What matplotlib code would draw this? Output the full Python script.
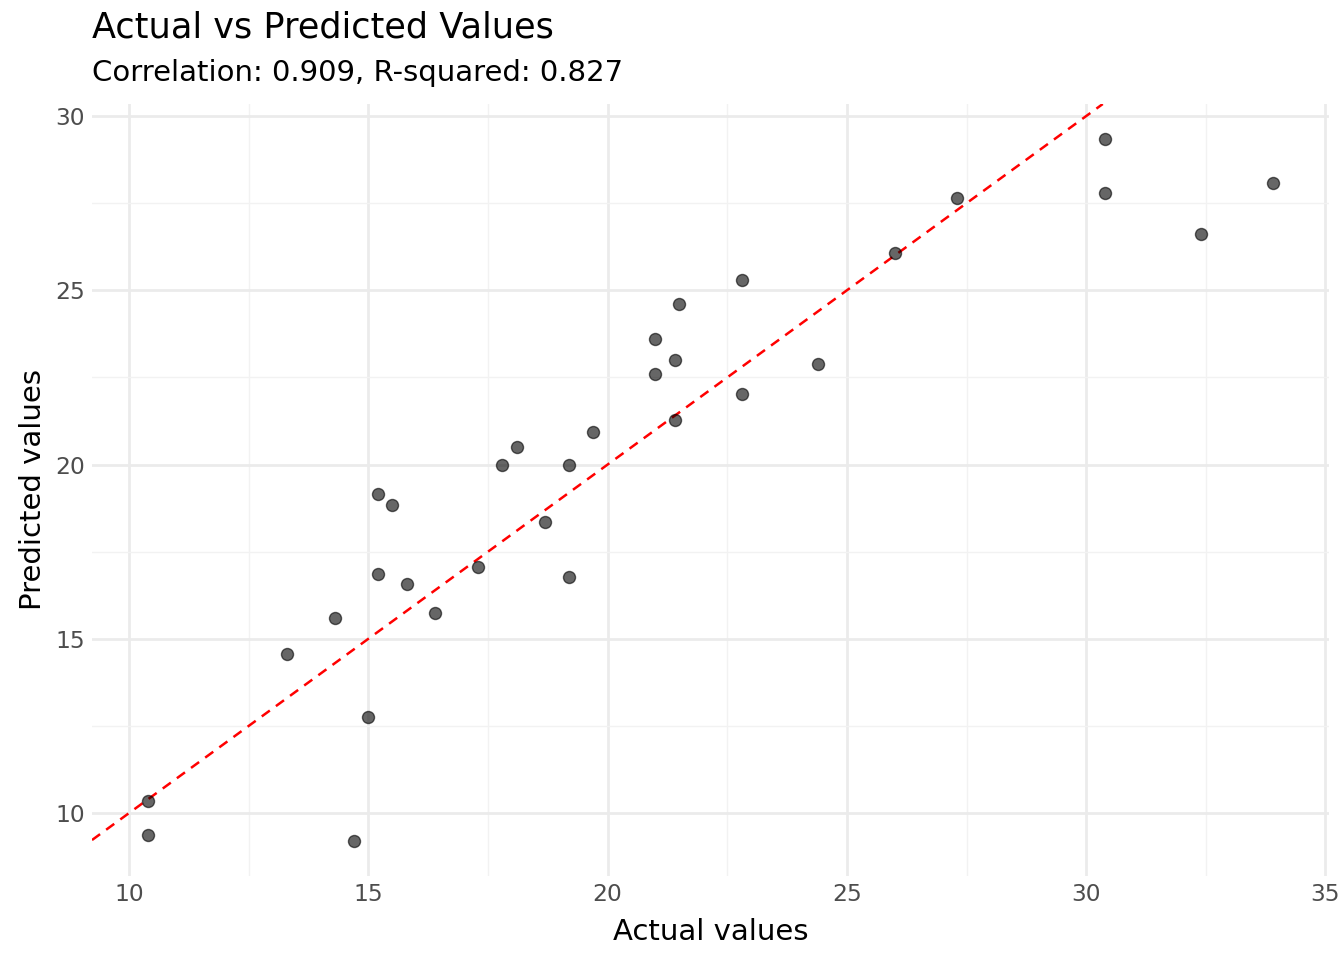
import matplotlib
matplotlib.use("Agg")
import matplotlib.pyplot as plt
import numpy as np
from matplotlib.ticker import MultipleLocator

actual = [10.4, 10.4, 14.7, 15.0, 13.3, 14.3, 15.2, 15.5, 15.2, 15.8, 16.4, 17.3,
          17.8, 18.1, 18.7, 19.2, 19.2, 19.7, 21.0, 21.0, 21.4, 21.4, 21.5, 22.8,
          22.8, 24.4, 26.0, 27.3, 30.4, 30.4, 32.4, 33.9]
predicted = [10.34, 9.37, 9.20, 12.75, 14.56, 15.60, 19.15, 18.84, 16.86, 16.57, 15.74, 17.06,
             19.99, 20.50, 18.35, 19.99, 16.77, 20.93, 23.60, 22.60, 23.00, 21.28, 24.60, 25.29,
             22.02, 22.90, 26.07, 27.65, 29.34, 27.79, 26.61, 28.08]

title = "Actual vs Predicted Values"
subtitle = "Correlation: 0.909, R-squared: 0.827"

fig = plt.figure(figsize=(13.44, 9.6), dpi=100)
ax = fig.add_axes([92/1344, 84/960, (1329-92)/1344, (876-104)/960])

xr = max(actual) - min(actual)
yr = max(predicted) - min(predicted)
xlim = (min(actual) - 0.05*xr, max(actual) + 0.05*xr)
ylim = (min(predicted) - 0.05*yr, max(predicted) + 0.05*yr)

ax.set_xlim(*xlim)
ax.set_ylim(*ylim)

ax.xaxis.set_major_locator(MultipleLocator(5))
ax.yaxis.set_major_locator(MultipleLocator(5))
ax.xaxis.set_minor_locator(MultipleLocator(2.5))
ax.yaxis.set_minor_locator(MultipleLocator(2.5))
ax.grid(which="major", color="#ebebeb", linewidth=2.0)
ax.grid(which="minor", color="#f2f2f2", linewidth=1.0)
ax.set_axisbelow(True)
for s in ax.spines.values():
    s.set_visible(False)
ax.tick_params(which="both", length=0)
ax.tick_params(axis="both", labelsize=16.8, colors="#4d4d4d", pad=5)

ax.axline((0, 0), slope=1, color="red", linestyle=(0, (4, 3)), linewidth=1.8, zorder=2)
ax.scatter(actual, predicted, s=75, facecolor="#000000", alpha=0.6,
           edgecolor="#000000", linewidth=1.0, zorder=3)

ax.set_xlabel("Actual values", fontsize=21, labelpad=9)
ax.set_ylabel("Predicted values", fontsize=21, labelpad=6)

fig.text(92/1344, 1 - 28/960, title, fontsize=25.3, ha="left", va="center")
fig.text(92/1344, 1 - 73/960, subtitle, fontsize=21, ha="left", va="center")

fig.savefig("out.png", dpi=100)
